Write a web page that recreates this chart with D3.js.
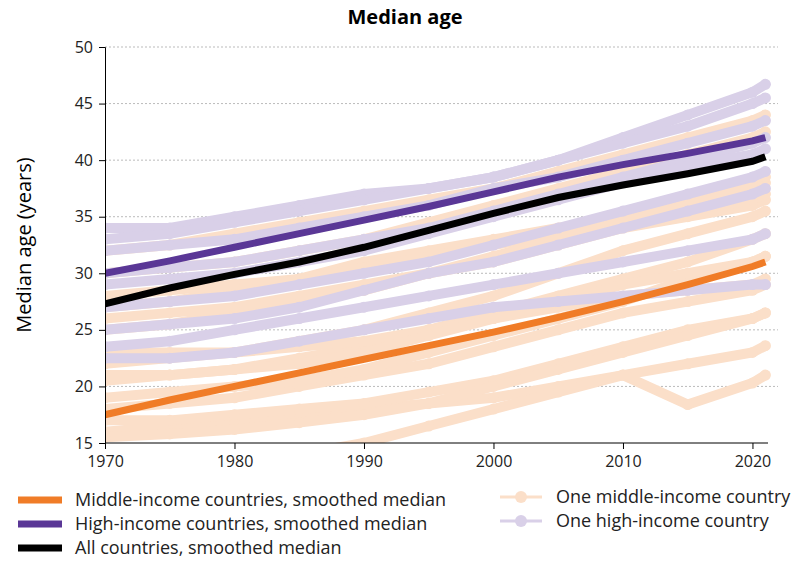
<!DOCTYPE html>
<html><head><meta charset="utf-8">
<script src="https://cdn.jsdelivr.net/npm/d3@7"></script>
<style>body{margin:0;background:#fff;font-family:"Open Sans",sans-serif}</style>
</head><body><svg id="c" width="810" height="562"></svg>
<script>
const years = [1970,1975,1980,1985,1990,1995,2000,2005,2010,2015,2020,2021];
const yTicks = [15,20,25,30,35,40,45,50];
const xTicks = [1970,1980,1990,2000,2010,2020];

// individual countries, values at the years above
const middleCountries = [
  [16,16.5,17,17.5,18,18.5,19,20,21,22,23,23.6],
  [17,17,17.5,18,18.5,19.5,20.5,22,23.5,25,26,26.5],
  [18,18.5,19,20,21,22,23.5,25,26.5,27.5,28.5,29],
  [19,19.5,20,20.5,21.5,23,24.5,26,27.5,29.5,31,31.5],
  [20.5,21,21.5,22.5,23.5,25,26.5,28,29.5,31,33,33.5],
  [22,22.5,23,24,25,26.5,28,30,32,33.5,35,35.5],
  [25,25.5,26.5,27.5,28.5,30,31,32.5,34,35,36,36.5],
  [27,27.5,28.5,29.5,31,32,33,34,35,36.5,37.5,38],
  [30,30.5,31,32,33,34.5,36,37.5,39,40.5,42,42.5],
  [32,32.5,33.5,34.5,35.5,36.5,37.5,39,40.5,42,43.5,44],
  [28,28.5,29,29.5,30.5,31.5,32.5,33.5,34.5,35.5,36.5,37],
  [23,23,23,23.5,24,25,26,27,28,28.5,29,29.5],
  [12,12.5,13,14,15,16.5,18,19.5,21,18.4,20.3,21],
  [26,26.5,27,28,29,30,31.5,33,34.5,36,38,38.5],
  [21,21,21.5,22,23,24.5,26,27.5,29,30,31,31.5],
  [15.5,15.8,16.2,16.8,17.5,18.5,20,21.5,23,24.5,26,26.5]
];
const highCountries = [
  [34,34,35,36,37,37.5,38.5,40,42,44,46,46.7],
  [33,33.5,34.5,35.5,36.5,37.5,38.5,40,41.5,43,45,45.5],
  [32,32.5,33,34,35,36,37.5,38.5,40,41.5,43,43.5],
  [30,30.5,31,32,33,34,35.5,37,38.5,40,41.5,42],
  [29,29.5,30,31,32,33.5,35,36.5,38,39.5,40.5,41],
  [27,27.5,28,29,30,31,32.5,34,35.5,37,38.5,39],
  [25,25.5,26,27,28.5,30,31,32.5,34,35.5,37,37.5],
  [23.5,24,25,26,27,28,29,30,31,32,33,33.5],
  [22.5,22.5,23,24,25,26,27,27.5,28,28.5,29,29]
];
const middleMedian = [17.5,18.8,20,21.2,22.4,23.6,24.8,26.1,27.5,29,30.6,31];
const highMedian = [30,31.1,32.3,33.5,34.7,35.9,37.2,38.5,39.6,40.6,41.7,42];
const allMedian = [27.3,28.7,29.9,31,32.3,33.8,35.3,36.7,37.8,38.8,39.9,40.3];

const svg = d3.select('#c');
const L = 105, R = 768, T = 47, B = 443;
const x = d3.scaleLinear().domain([1970, 2021.2]).range([L, R]);
const y = d3.scaleLinear().domain([15, 50]).range([B, T]);

svg.append('defs').append('clipPath').attr('id', 'clip')
  .append('rect').attr('x', L).attr('y', T - 10).attr('width', R - L + 10).attr('height', B - T + 10);

// grid
svg.append('g').selectAll('line').data(yTicks.slice(1)).join('line')
  .attr('x1', L).attr('x2', R + 10).attr('y1', d => y(d)).attr('y2', d => y(d))
  .attr('stroke', '#bbb').attr('stroke-dasharray', '2,2');

const line = d3.line().x((d, i) => x(years[i])).y(d => y(d));
const plot = svg.append('g').attr('clip-path', 'url(#clip)');

function drawCountries(data, color) {
  const g = plot.append('g');
  data.forEach(s => {
    g.append('path').attr('d', line(s)).attr('fill', 'none')
      .attr('stroke', color).attr('stroke-width', 10).attr('stroke-linecap', 'round');
    g.selectAll(null).data(s).join('circle')
      .attr('cx', (d, i) => x(years[i])).attr('cy', d => y(d)).attr('r', 5.5).attr('fill', color);
  });
}
drawCountries(middleCountries, '#fbdfc9');
drawCountries(highCountries, '#d9d0e8');

[[middleMedian, '#f07c27'], [allMedian, '#000'], [highMedian, '#5a3796']].forEach(([s, c]) => {
  plot.append('path').attr('d', line(s)).attr('fill', 'none').attr('stroke', c).attr('stroke-width', 7);
});

// axes
const ax = svg.append('g').attr('transform', `translate(0,${B})`)
  .call(d3.axisBottom(x).tickValues(xTicks).tickFormat(d3.format('d')).tickSize(6).tickPadding(7));
ax.select('.domain').attr('d', `M${L},0H${R}`);
const ay = svg.append('g').attr('transform', `translate(${L},0)`)
  .call(d3.axisLeft(y).tickValues(yTicks).tickSize(6).tickPadding(6));
[ax, ay].forEach(a => a.selectAll('text').attr('font-size', 16).attr('fill', '#222').attr('font-family', 'Open Sans'));

svg.append('text').attr('x', 405).attr('y', 24).attr('text-anchor', 'middle')
  .attr('font-size', 20).attr('font-weight', 'bold').text('Median age');
svg.append('text').attr('transform', `translate(31,${(T + B) / 2}) rotate(-90)`)
  .attr('text-anchor', 'middle').attr('font-size', 20).text('Median age (years)');

// legend
const leg = [
  {t: 'Middle-income countries, smoothed median', c: '#f07c27', x: 18, y: 500},
  {t: 'High-income countries, smoothed median', c: '#5a3796', x: 18, y: 524},
  {t: 'All countries, smoothed median', c: '#000', x: 18, y: 548},
  {t: 'One middle-income country', c: '#fbdfc9', x: 500, y: 497, dot: true},
  {t: 'One high-income country', c: '#d9d0e8', x: 500, y: 521, dot: true}
];
const lg = svg.append('g').selectAll('g').data(leg).join('g')
  .attr('transform', d => `translate(${d.x},${d.y})`);
lg.append('line').attr('x1', 0).attr('x2', d => d.dot ? 42 : 44)
  .attr('stroke', d => d.c).attr('stroke-width', d => d.dot ? 3 : 7);
lg.filter(d => d.dot).append('circle').attr('cx', 21).attr('r', 6).attr('fill', d => d.c);
lg.append('text').attr('x', d => d.dot ? 56 : 57).attr('dy', '0.35em')
  .attr('font-size', 18).attr('fill', '#222').text(d => d.t);
</script></body></html>
